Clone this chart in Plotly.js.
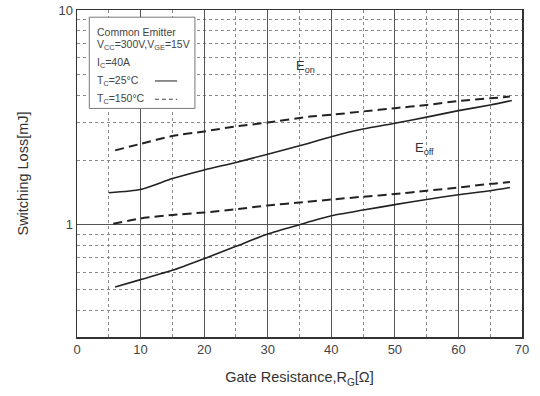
<!DOCTYPE html>
<html>
<head>
<meta charset="utf-8">
<script src="https://cdn.plot.ly/plotly-3.0.1.min.js"></script>
<style>html,body{margin:0;padding:0;background:#fff;}#chart{width:540px;height:396px;}</style>
</head>
<body>
<div id="chart"></div>
<script>
// Gate resistance (ohm) and switching loss (mJ)
const eonHotX  = [6, 10, 15, 20, 25, 30, 36.7, 40, 45, 50, 55, 60, 65, 68.1];
const eonHotY  = [2.22, 2.38, 2.59, 2.72, 2.87, 2.99, 3.19, 3.25, 3.37, 3.49, 3.61, 3.77, 3.88, 3.95];
const eonColdX = [5, 10, 15, 20, 25, 30, 35, 40, 45, 50, 55, 60, 65, 68.4];
const eonColdY = [1.41, 1.46, 1.64, 1.80, 1.95, 2.13, 2.33, 2.57, 2.79, 2.97, 3.17, 3.40, 3.61, 3.79];
const eoffHotX  = [5.7, 10, 15, 20, 25, 30, 35, 40, 45, 50, 55, 60, 65, 68.1];
const eoffHotY  = [1.01, 1.07, 1.11, 1.14, 1.18, 1.23, 1.27, 1.31, 1.35, 1.39, 1.44, 1.49, 1.55, 1.58];
const eoffColdX = [6, 10, 15, 20, 25, 30, 35, 40, 45, 50, 55, 60, 65, 68.1];
const eoffColdY = [0.513, 0.555, 0.613, 0.695, 0.793, 0.905, 1.0, 1.10, 1.17, 1.24, 1.31, 1.38, 1.44, 1.49];

const xTicks = [0, 10, 20, 30, 40, 50, 60, 70];
const yTicks = [1, 10];
const yTickText = ['1', '10'];
const xMinor = [5, 15, 25, 35, 45, 55, 65];
const yMinor = [0.4, 0.5, 0.6, 0.7, 0.8, 0.9, 2, 3, 4, 5, 6, 7, 8, 9];

// curve labels: [x, y(mJ)]
const eonLabelPos = [35.9, 5.43];
const eoffLabelPos = [54.7, 2.26];

const lineCol = '#222';
function trace(x, y, dash) {
  return {x: x, y: y, type: 'scatter', mode: 'lines', showlegend: false, hoverinfo: 'skip',
    line: {color: lineCol, width: dash ? 2 : 1.6, dash: dash ? '9px,5px' : 'solid', shape: 'spline', smoothing: 0.6}};
}
const data = [
  trace(eonHotX, eonHotY, true),
  trace(eonColdX, eonColdY, false),
  trace(eoffHotX, eoffHotY, true),
  trace(eoffColdX, eoffColdY, false)
];

const fontFam = 'Liberation Sans, Arial, sans-serif';
const legY = [0.934, 0.893, 0.839, 0.783, 0.727];
const legText = ['Common Emitter', 'V<sub>CC</sub>=300V,V<sub>GE</sub>=15V', 'I<sub>C</sub>=40A', 'T<sub>C</sub>=25°C', 'T<sub>C</sub>=150°C'];
const annotations = legText.map((t, i) => ({
  xref: 'paper', yref: 'paper', x: 0.040, y: legY[i], xanchor: 'left', yanchor: 'middle',
  text: t, showarrow: false, font: {family: fontFam, size: 10.5, color: '#444'}
}));
// log axis: annotation y is given in log10 units
annotations.push({xref: 'x', yref: 'y', x: eonLabelPos[0], y: Math.log10(eonLabelPos[1]), text: 'E<sub>on</sub>', showarrow: false,
  font: {family: fontFam, size: 13, color: '#333'}});
annotations.push({xref: 'x', yref: 'y', x: eoffLabelPos[0], y: Math.log10(eoffLabelPos[1]), text: 'E<sub>off</sub>', showarrow: false,
  font: {family: fontFam, size: 13, color: '#333'}});

const shapes = [
  {type: 'rect', xref: 'paper', yref: 'paper', x0: 0.0276, x1: 0.265, y0: 0.699, y1: 0.978,
    fillcolor: '#fff', line: {color: '#777', width: 1}, layer: 'above'},
  {type: 'line', xref: 'paper', yref: 'paper', x0: 0.175, x1: 0.225, y0: 0.783, y1: 0.783,
    line: {color: '#444', width: 1.2}, layer: 'above'},
  {type: 'line', xref: 'paper', yref: 'paper', x0: 0.175, x1: 0.225, y0: 0.727, y1: 0.727,
    line: {color: '#444', width: 1.2, dash: '4px,3px'}, layer: 'above'}
];

const layout = {
  width: 540, height: 396,
  margin: {l: 77, r: 18, t: 10, b: 59},
  paper_bgcolor: '#fff', plot_bgcolor: '#fff',
  font: {family: fontFam, color: '#333'},
  xaxis: {
    range: [0, 70], tickmode: 'array', tickvals: xTicks, ticks: '',
    showgrid: true, gridcolor: '#555', gridwidth: 1, zeroline: false,
    showline: true, mirror: true, linecolor: '#333', linewidth: 1.5,
    tickfont: {size: 13, color: '#444'},
    minor: {tickmode: 'array', tickvals: xMinor, showgrid: true, gridcolor: '#888', griddash: 'dot', gridwidth: 1, ticks: ''},
    title: {text: 'Gate Resistance,R<sub>G</sub>[Ω]', font: {size: 14.5, color: '#333'}, standoff: 16}
  },
  yaxis: {
    type: 'log', range: [Math.log10(0.3), 1], tickmode: 'array', tickvals: yTicks, ticktext: yTickText, ticks: '',
    showgrid: true, gridcolor: '#555', gridwidth: 1, zeroline: false,
    showline: true, mirror: true, linecolor: '#333', linewidth: 1.5,
    tickfont: {size: 13, color: '#444'},
    minor: {tickmode: 'array', tickvals: yMinor, showgrid: true, gridcolor: '#888', griddash: 'dot', gridwidth: 1, ticks: ''},
    title: {text: 'Switching Loss[mJ]', font: {size: 14.5, color: '#333'}, standoff: 26}
  },
  annotations: annotations,
  shapes: shapes
};

Plotly.newPlot('chart', data, layout, {staticPlot: true, displayModeBar: false});
</script>
</body>
</html>
